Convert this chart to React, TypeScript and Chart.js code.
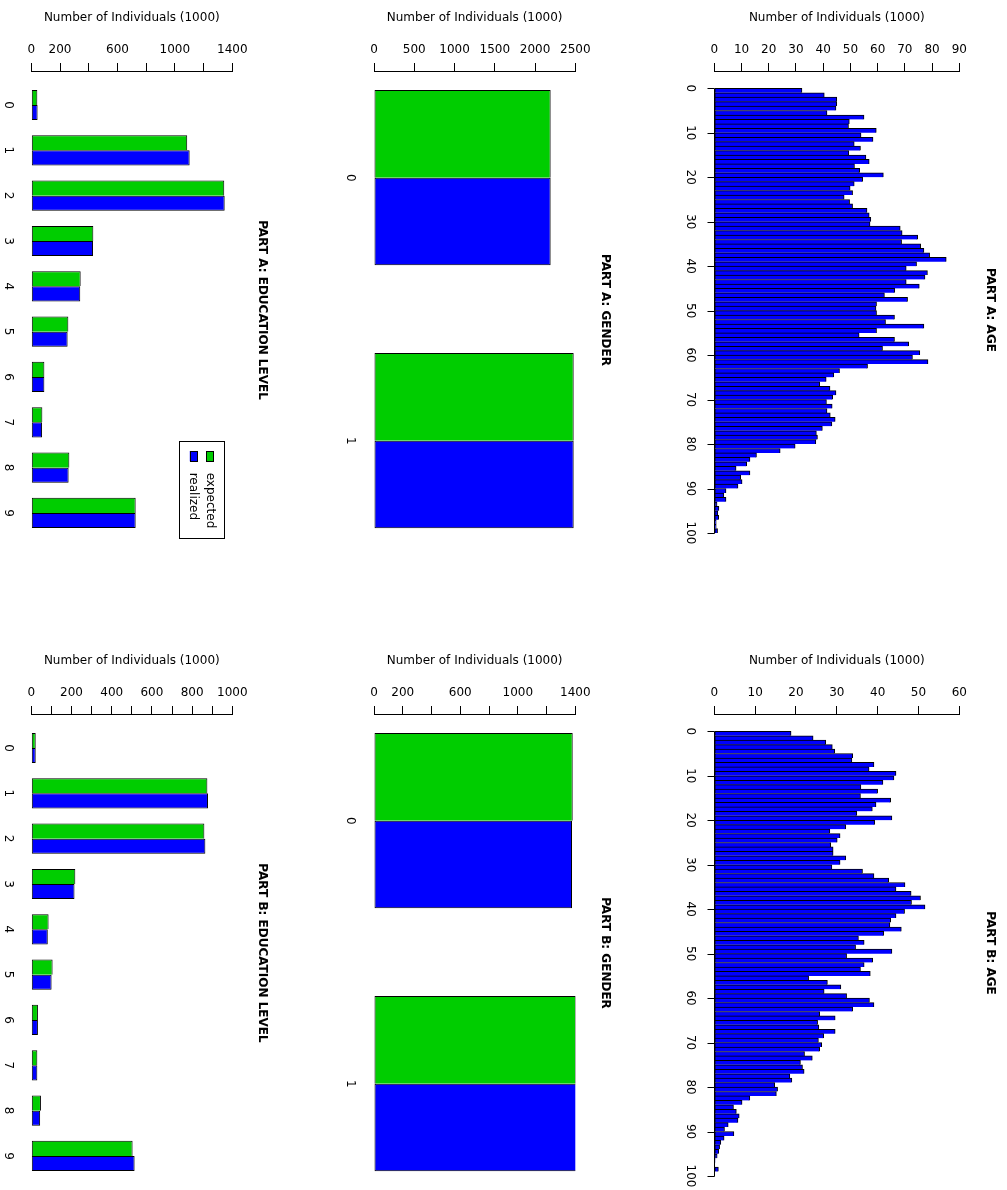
import React, { useEffect, useRef } from 'react';
import { Chart, registerables } from 'chart.js';

Chart.register(...registerables);

const FONT_FAMILY = "'DejaVu Sans', sans-serif";
const FONT_SIZE = 12;
Chart.defaults.font.family = FONT_FAMILY;
Chart.defaults.font.size = FONT_SIZE;
Chart.defaults.color = '#000';

const GREEN = '#00CD00';
const BLUE = '#0000FF';

// ---- data -------------------------------------------------------------

// single years of age, one bar per year
const ages = Array.from({ length: 100 }, (_, i) => i);
const ageTickValues = [0, 10, 20, 30, 40, 50, 60, 70, 80, 90, 100];

const ageCountsA = [
  32.2, 40.4, 45.0, 45.0, 44.7, 41.4, 55.0, 49.6, 49.3, 59.5,
  53.9, 58.3, 51.4, 53.7, 49.4, 55.7, 56.9, 51.5, 53.4, 62.1,
  54.5, 51.4, 49.9, 50.8, 47.7, 49.7, 50.8, 56.1, 56.9, 57.5,
  57.2, 68.3, 69.0, 74.7, 68.8, 75.8, 77.0, 79.1, 85.2, 74.3,
  70.5, 78.3, 77.4, 70.5, 75.3, 66.3, 62.5, 71.0, 59.6, 59.4,
  59.6, 66.2, 62.9, 77.0, 59.6, 53.2, 66.2, 71.4, 61.8, 75.5,
  72.8, 78.5, 56.3, 46.0, 43.9, 41.1, 38.7, 42.5, 44.7, 43.5,
  41.2, 43.3, 41.4, 42.6, 44.4, 43.2, 39.7, 37.5, 37.9, 37.3,
  29.7, 24.2, 15.5, 13.1, 11.9, 8.0, 13.1, 9.7, 10.2, 8.7,
  4.3, 3.5, 4.3, 1.0, 1.7, 1.3, 1.6, 0.7, 0.7, 1.2,
];

const ageCountsB = [
  18.8, 24.2, 27.3, 28.9, 29.5, 33.9, 33.7, 39.1, 37.9, 44.5,
  44.0, 41.3, 35.9, 40.0, 35.8, 43.2, 39.6, 38.7, 34.9, 43.5,
  39.3, 32.2, 28.3, 30.8, 30.1, 28.5, 29.1, 29.1, 32.2, 30.8,
  28.8, 36.3, 39.1, 42.7, 46.7, 44.5, 48.2, 50.5, 48.3, 51.6,
  46.6, 44.5, 43.2, 43.0, 45.8, 41.5, 35.3, 36.7, 34.6, 43.5,
  32.4, 38.8, 36.7, 35.8, 38.2, 23.1, 27.7, 31.0, 26.9, 32.4,
  38.0, 39.1, 33.9, 25.8, 29.6, 25.3, 25.6, 29.6, 26.8, 25.5,
  26.3, 25.8, 22.1, 24.0, 21.1, 21.6, 22.0, 18.5, 19.0, 14.8,
  15.5, 15.2, 8.7, 6.8, 4.7, 5.4, 6.1, 5.8, 3.4, 2.5,
  4.8, 2.4, 1.6, 1.3, 1.1, 0.7, 0.2, 0.1, 1.0, 0,
];

const educationLevels = [0, 1, 2, 3, 4, 5, 6, 7, 8, 9];
const eduExpectedA = [42, 1086, 1344, 432, 344, 258, 91, 77, 265, 727];
const eduRealizedA = [44, 1103, 1347, 430, 341, 253, 91, 75, 260, 727];
const eduExpectedB = [22, 876, 861, 219, 86, 106, 33, 30, 48, 504];
const eduRealizedB = [22, 879, 866, 215, 82, 101, 33, 30, 44, 514];

const genders = [0, 1];
const genderExpectedA = [2194, 2480];
const genderRealizedA = [2194, 2480];
const genderExpectedB = [1382, 1405];
const genderRealizedB = [1377, 1414];

const seriesNames = ['expected', 'realized'];
const valueAxisTitle = 'Number of Individuals (1000)';

// value-axis ticks: max, step and the values that carry a label
const ageAxisA = { max: 90, step: 10, labels: [0, 10, 20, 30, 40, 50, 60, 70, 80, 90] };
const ageAxisB = { max: 60, step: 10, labels: [0, 10, 20, 30, 40, 50, 60] };
const genderAxisA = { max: 2500, step: 500, labels: [0, 500, 1000, 1500, 2000, 2500] };
const genderAxisB = { max: 1400, step: 200, labels: [0, 200, 600, 1000, 1400] };
const eduAxisA = { max: 1400, step: 200, labels: [0, 200, 600, 1000, 1400] };
const eduAxisB = { max: 1000, step: 100, labels: [0, 200, 400, 600, 800, 1000] };

// ---- layout -----------------------------------------------------------

const AXIS_LINE_Y = 71;
const PLOT_BOTTOM = 549;
const CANVAS_H = 582;
const ROW_TOPS = [0, 643];
const AGE_TICK_LEN = 7;

const COLUMNS = {
  edu: { left: 0, width: 336, plotLeft: 31.3, plotRight: 232.3, titleX: 262, labelX: 8, firstPx: 105, unitPx: 45.33 },
  gender: { left: 336, width: 335, plotLeft: 38, plotRight: 239.3, titleX: 269, labelX: 14, firstPx: 177.7, unitPx: 263 },
  age: { left: 671, width: 336, plotLeft: 43.3, plotRight: 288.3, titleX: 319, labelX: 19, firstPx: 88.3, unitPx: 4.447 },
};

const measureCtx = typeof document !== 'undefined' ? document.createElement('canvas').getContext('2d') : null;
function textWidth(s: string): number {
  if (!measureCtx) return s.length * 7;
  measureCtx.font = `${FONT_SIZE}px ${FONT_FAMILY}`;
  return measureCtx.measureText(s).width;
}

// age axis: line from the first to the last tick, with outward tick marks
const ageAxisLinePlugin = {
  id: 'ageAxisLine',
  afterDraw(chart: any) {
    const ctx = chart.ctx;
    const area = chart.chartArea;
    const yScale = chart.scales.y;
    const x = Math.floor(area.left) + 0.5;
    const yTop = Math.round(yScale.getPixelForValue(ageTickValues[0])) + 0.5;
    const yBottom = Math.round(yScale.getPixelForValue(ageTickValues[ageTickValues.length - 1])) + 0.5;
    ctx.save();
    ctx.strokeStyle = '#000';
    ctx.lineWidth = 1;
    ctx.beginPath();
    ctx.moveTo(x, yTop);
    ctx.lineTo(x, yBottom);
    for (const v of ageTickValues) {
      const py = Math.round(yScale.getPixelForValue(v)) + 0.5;
      ctx.moveTo(x - AGE_TICK_LEN, py);
      ctx.lineTo(x, py);
    }
    ctx.stroke();
    ctx.restore();
  },
};

// boxed legend with labels running down the page
const legendBoxPlugin = {
  id: 'legendBox',
  afterDraw(chart: any) {
    const { ctx, chartArea } = chart;
    const right = chartArea.right - 7.6;
    const left = chartArea.right - 53;
    const bottom = chartArea.bottom - 11;
    const top = chartArea.bottom - 108.3;
    ctx.save();
    ctx.strokeStyle = '#000';
    ctx.lineWidth = 1;
    ctx.strokeRect(Math.round(left) + 0.5, Math.round(top) + 0.5, Math.round(right - left), Math.round(bottom - top));
    chart.data.datasets.forEach((ds: any, i: number) => {
      const cx = right - 15 - 16.3 * i;
      ctx.fillStyle = ds.backgroundColor;
      ctx.fillRect(cx - 3.6, top + 10.3, 7.3, 10.3);
      ctx.strokeRect(Math.round(cx - 3.6) + 0.5, Math.round(top + 10.3) + 0.5, 7, 10);
      ctx.save();
      ctx.translate(cx, top + 32);
      ctx.rotate(Math.PI / 2);
      ctx.font = `${FONT_SIZE}px ${FONT_FAMILY}`;
      ctx.fillStyle = '#000';
      ctx.textAlign = 'left';
      ctx.textBaseline = 'middle';
      ctx.fillText(ds.label, 0, 0);
      ctx.restore();
    });
    ctx.restore();
  },
};

type PanelSpec = {
  key: string;
  title: string;
  col: typeof COLUMNS.age;
  top: number;
  axis: { max: number; step: number; labels: number[] };
  kind: 'age' | 'group';
  counts?: number[];
  expected?: number[];
  realized?: number[];
  groups?: number[];
  legend?: boolean;
};

const panels: PanelSpec[] = [
  { key: 'eduA', title: 'PART A: EDUCATION LEVEL', col: COLUMNS.edu, top: ROW_TOPS[0], axis: eduAxisA, kind: 'group', expected: eduExpectedA, realized: eduRealizedA, groups: educationLevels, legend: true },
  { key: 'genA', title: 'PART A: GENDER', col: COLUMNS.gender, top: ROW_TOPS[0], axis: genderAxisA, kind: 'group', expected: genderExpectedA, realized: genderRealizedA, groups: genders },
  { key: 'ageA', title: 'PART A: AGE', col: COLUMNS.age, top: ROW_TOPS[0], axis: ageAxisA, kind: 'age', counts: ageCountsA },
  { key: 'eduB', title: 'PART B: EDUCATION LEVEL', col: COLUMNS.edu, top: ROW_TOPS[1], axis: eduAxisB, kind: 'group', expected: eduExpectedB, realized: eduRealizedB, groups: educationLevels },
  { key: 'genB', title: 'PART B: GENDER', col: COLUMNS.gender, top: ROW_TOPS[1], axis: genderAxisB, kind: 'group', expected: genderExpectedB, realized: genderRealizedB, groups: genders },
  { key: 'ageB', title: 'PART B: AGE', col: COLUMNS.age, top: ROW_TOPS[1], axis: ageAxisB, kind: 'age', counts: ageCountsB },
];

function buildConfig(p: PanelSpec): any {
  const c = p.col;
  const lh = FONT_SIZE * 1.2;
  const titlePadTop = c.width - c.titleX - lh / 2;
  const titlePadBottom = c.width - c.plotRight - lh - titlePadTop;
  const yMin = -(c.firstPx - AXIS_LINE_Y) / c.unitPx;
  const yMax = yMin + (PLOT_BOTTOM - AXIS_LINE_Y) / c.unitPx;
  const isAge = p.kind === 'age';
  const indexTicks = isAge ? ageTickValues : (p.groups as number[]);
  const widest = Math.max(...indexTicks.map((v) => textWidth(String(v))));
  const tl = isAge ? AGE_TICK_LEN : 0;
  const labelPad = c.plotLeft - tl - widest / 2 - c.labelX;

  const outlineTop = { top: 1, right: 1, bottom: 0, left: 1 };
  const datasets = isAge
    ? [
        {
          label: 'age',
          data: ages.map((a, i) => ({ x: (p.counts as number[])[i], y: a + 0.5 })),
          backgroundColor: BLUE,
          borderColor: '#000',
          borderWidth: outlineTop,
          borderSkipped: false,
          categoryPercentage: 1,
          barPercentage: 1,
        },
      ]
    : [
        {
          label: seriesNames[0],
          data: (p.groups as number[]).map((g, i) => ({ x: (p.expected as number[])[i], y: g })),
          backgroundColor: GREEN,
          borderColor: '#000',
          borderWidth: outlineTop,
          borderSkipped: false,
          categoryPercentage: 2 / 3,
          barPercentage: 1,
        },
        {
          label: seriesNames[1],
          data: (p.groups as number[]).map((g, i) => ({ x: (p.realized as number[])[i], y: g })),
          backgroundColor: BLUE,
          borderColor: '#000',
          borderWidth: 1,
          borderSkipped: false,
          categoryPercentage: 2 / 3,
          barPercentage: 1,
        },
      ];

  const plugins: any[] = [];
  if (isAge) plugins.push(ageAxisLinePlugin);
  if (p.legend) plugins.push(legendBoxPlugin);

  return {
    type: 'bar',
    data: { datasets },
    plugins,
    options: {
      animation: false,
      responsive: false,
      events: [],
      indexAxis: 'y',
      layout: { padding: { left: 0, right: 0, top: 0, bottom: CANVAS_H - PLOT_BOTTOM } },
      plugins: {
        legend: { display: false },
        tooltip: { enabled: false },
        title: {
          display: true,
          text: p.title,
          position: 'right',
          fullSize: false,
          color: '#000',
          font: { size: FONT_SIZE, weight: 'bold', lineHeight: 1.2 },
          padding: { top: titlePadTop, bottom: titlePadBottom },
        },
      },
      scales: {
        x: {
          type: 'linear',
          position: 'top',
          min: 0,
          max: p.axis.max,
          offset: false,
          afterFit: (s: any) => {
            s.height = AXIS_LINE_Y;
          },
          ticks: {
            stepSize: p.axis.step,
            autoSkip: false,
            minRotation: 0,
            maxRotation: 0,
            padding: 6,
            color: '#000',
            callback: (v: any) => (p.axis.labels.includes(Number(v)) ? String(v) : ''),
          },
          grid: { display: true, offset: false, drawOnChartArea: false, drawTicks: true, tickLength: 8, color: '#000' },
          border: { display: true, color: '#000', width: 1 },
          title: {
            display: true,
            text: valueAxisTitle,
            color: '#000',
            font: { size: FONT_SIZE },
            padding: { top: 11, bottom: 0 },
          },
        },
        y: {
          type: 'linear',
          position: 'left',
          reverse: true,
          offset: false,
          min: yMin,
          max: yMax,
          afterBuildTicks: (s: any) => {
            s.ticks = indexTicks.map((v) => ({ value: v }));
          },
          afterFit: (s: any) => {
            s.width = c.plotLeft;
          },
          ticks: {
            autoSkip: false,
            minRotation: -90,
            maxRotation: -90,
            crossAlign: 'center',
            padding: labelPad,
            color: '#000',
            callback: (v: any) => String(v),
          },
          grid: { display: false, offset: false, drawOnChartArea: false, drawTicks: isAge, tickLength: AGE_TICK_LEN },
          border: { display: false },
        },
      },
    },
  };
}

function Panel({ spec }: { spec: PanelSpec }) {
  const ref = useRef<HTMLCanvasElement>(null);
  useEffect(() => {
    if (!ref.current) return;
    const chart = new Chart(ref.current, buildConfig(spec));
    return () => chart.destroy();
  }, [spec]);
  return (
    <canvas
      ref={ref}
      width={spec.col.width}
      height={CANVAS_H}
      style={{ position: 'absolute', left: spec.col.left, top: spec.top, width: spec.col.width, height: CANVAS_H }}
    />
  );
}

export default function App() {
  return (
    <div
      style={{
        position: 'absolute',
        left: 0,
        top: 0,
        width: 1007,
        height: 1190,
        overflow: 'hidden',
        background: '#fff',
      }}
    >
      {panels.map((p) => (
        <Panel key={p.key} spec={p} />
      ))}
    </div>
  );
}
